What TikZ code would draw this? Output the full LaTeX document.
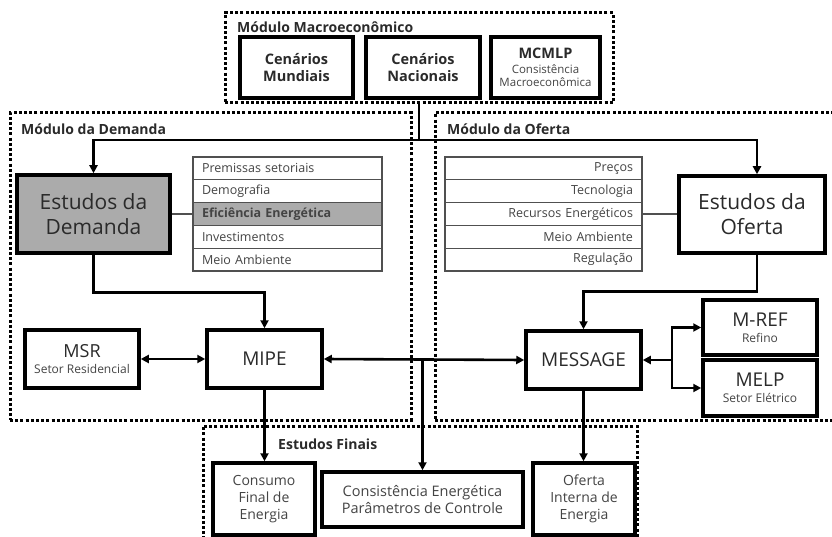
\documentclass[tikz,border=0pt]{standalone}
\usepackage{fontspec}
\setmainfont{Open Sans}
\usetikzlibrary{arrows.meta,calc}
\definecolor{tx}{HTML}{2A2A2A}
\definecolor{tx2}{HTML}{444444}
\definecolor{rowgray}{HTML}{505050}
\definecolor{gfill}{HTML}{ABABAB}
\newcommand{\fs}[1]{\fontsize{#1}{\fpeval{#1*1.2}}\selectfont}
\begin{document}
\begin{tikzpicture}[x=1pt,y=-1pt,
  bx/.style={draw=black, line width=3.5pt, fill=white, inner sep=0pt, align=center, text=tx},
  dotbox/.style={draw=black, line width=3pt, dash pattern=on 3pt off 2.2pt, inner sep=0pt},
  conn/.style={line width=2.6pt},
  arr/.style={conn, -{Triangle[length=8pt,width=8pt]}},
  darr/.style={conn, {Triangle[length=8pt,width=8pt]}-{Triangle[length=8pt,width=8pt]}},
  rowL/.style={draw=rowgray, line width=1.1pt, fill=white, minimum width=189pt, minimum height=22.8pt, inner sep=0pt, text=tx2, font=\fs{12.5}, text width=171pt, align=left},
  rowR/.style={draw=rowgray, line width=1.1pt, fill=white, minimum width=197pt, minimum height=22.8pt, inner sep=0pt, text=tx2, font=\fs{12.5}, text width=179pt, align=right},
  lbl/.style={anchor=west, inner sep=0pt, text=tx, font=\bfseries\fs{14}},
  thin/.style={draw=rowgray, line width=1.1pt}
]
\useasboundingbox (0,0) rectangle (832,537);
% module frames
\node[dotbox, minimum width=388pt, minimum height=90pt] (macro) at (419,58) {};
\node[dotbox, minimum width=401pt, minimum height=307pt] (dem) at (210.5,266.5) {};
\node[dotbox, minimum width=410pt, minimum height=307pt] (ofe) at (640,266.5) {};
\node[dotbox, minimum width=434pt, minimum height=124pt] (fin) at (420,488) {};
% labels
\node[lbl] (lmac) at (237,27) {Módulo Macroeconômico};
\node[lbl] (ldem) at (21,129) {Módulo da Demanda};
\node[lbl] (lofe) at (447,129) {Módulo da Oferta};
\node[lbl] (lfin) at (278,444) {Estudos Finais};
% macro boxes
\node[bx, minimum width=113pt, minimum height=61pt, font=\bfseries\fs{14.5}] (cm) at (296.5,67.5) {Cenários\\Mundiais};
\node[bx, minimum width=114pt, minimum height=61pt, font=\bfseries\fs{14.5}] (cn) at (423,67.5) {Cenários\\Nacionais};
\node[bx, minimum width=109pt, minimum height=61pt, font=\fs{11.5}] (mc) at (545.5,67.5) {{\bfseries\fs{14.5}MCMLP}\\[1pt]{\color{tx2}Consistência}\\{\color{tx2}Macroeconômica}};
% demand side
\node[bx, fill=gfill, minimum width=153pt, minimum height=78pt, font=\fs{21}] (ed) at (93.5,214) {Estudos da\\Demanda};
\node[rowL] (d1) at (287.5,168.4) {Premissas setoriais};
\node[rowL] (d2) at (287.5,191.2) {Demografia};
\node[rowL, fill=gfill, font=\bfseries\fs{12.5}] (d3) at (287.5,214) {Eficiência Energética};
\node[rowL] (d4) at (287.5,236.8) {Investimentos};
\node[rowL] (d5) at (287.5,259.6) {Meio Ambiente};
\draw[thin] (ed.east) -- (d3.west);
% supply side
\node[bx, minimum width=146pt, minimum height=77pt, font=\fs{21}] (eo) at (752,214.5) {Estudos da\\Oferta};
\node[rowR] (o1) at (543.5,168.4) {Preços};
\node[rowR] (o2) at (543.5,191.2) {Tecnologia};
\node[rowR] (o3) at (543.5,214) {Recursos Energéticos};
\node[rowR] (o4) at (543.5,236.8) {Meio Ambiente};
\node[rowR] (o5) at (543.5,259.6) {Regulação};
\draw[thin] (o3.east) -- (eo.west |- o3.east);
% models
\node[bx, minimum width=114pt, minimum height=58pt, font=\fs{12}] (msr) at (82,359) {{\fs{18}MSR}\\[2pt]{\color{tx2}Setor Residencial}};
\node[bx, minimum width=115pt, minimum height=58pt, font=\fs{19}] (mipe) at (264.5,359) {MIPE};
\node[bx, minimum width=115pt, minimum height=58pt, font=\fs{19}] (msg) at (583.5,360) {MESSAGE};
\node[bx, minimum width=114pt, minimum height=55pt, font=\fs{12}] (mref) at (760,327.5) {{\fs{19}M-REF}\\[2pt]{\color{tx2}Refino}};
\node[bx, minimum width=114pt, minimum height=56pt, font=\fs{12}] (melp) at (760,388) {{\fs{19}MELP}\\[2pt]{\color{tx2}Setor Elétrico}};
% final studies
\node[bx, minimum width=102pt, minimum height=72pt, font=\fs{14}, text=tx2] (cons) at (264,499) {Consumo\\Final de\\Energia};
\node[bx, minimum width=201pt, minimum height=55pt, font=\fs{14.5}, text=tx2] (ceng) at (422.5,499.5) {Consistência Energética\\Parâmetros de Controle};
\node[bx, minimum width=102pt, minimum height=72pt, font=\fs{14}, text=tx2] (oint) at (584,499) {Oferta\\Interna de\\Energia};
% connectors
\coordinate (top) at (419,140);
\draw[conn] (macro.south) -- (top);
\draw[arr] (top) -| (ed.north);
\draw[arr] (top) -| ([xshift=5pt]eo.north);
\draw[arr] (ed.south) -- ++(0,38) -| (mipe.north);
\draw[arr] ([xshift=5pt]eo.south) -- ++(0,37) -| (msg.north);
\draw[darr] (msr.east) -- (mipe.west);
\draw[darr] (mipe.east) -- (msg.west);
\coordinate (mid) at (422.5,359.5);
\draw[arr] (mid) -- (ceng.north);
\coordinate (jr) at (672,360);
\draw[arr] (jr) -- (msg.east);
\draw[arr] (jr) |- (mref.west);
\draw[arr] (jr) |- (melp.west);
\draw[arr] (mipe.south) -- (mipe.south |- cons.north);
\draw[arr] (msg.south) -- (msg.south |- oint.north);
\end{tikzpicture}
\end{document}
